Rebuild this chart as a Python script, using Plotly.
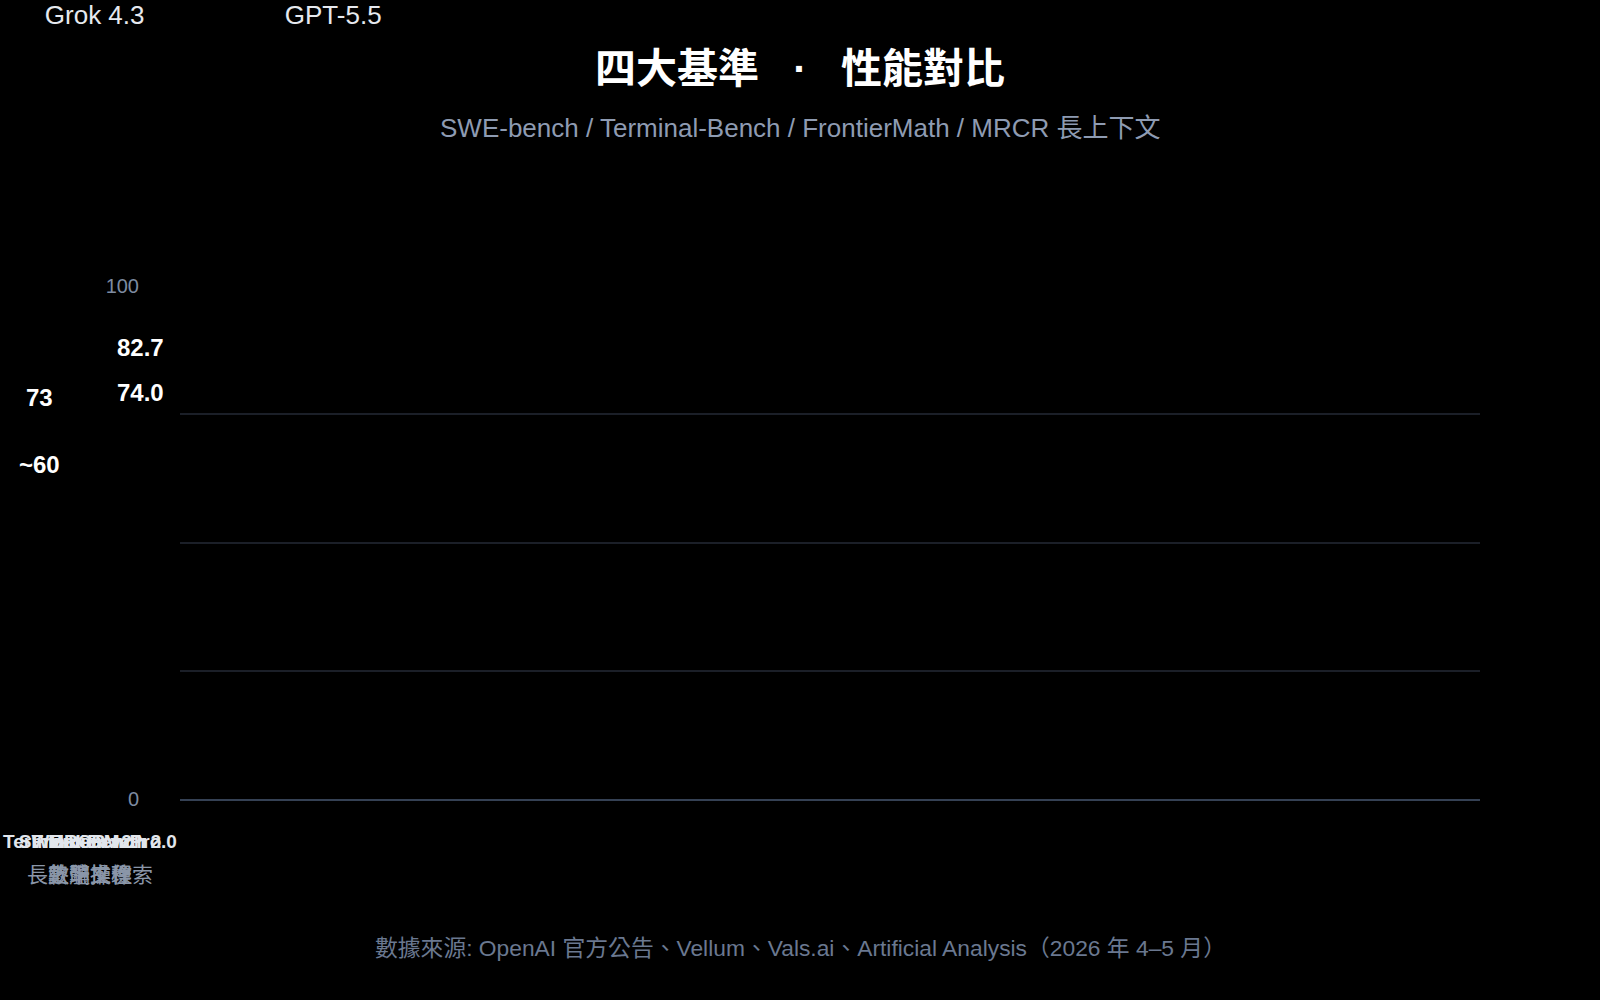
import plotly.graph_objects as go

# Benchmarks (top line) and their Chinese descriptions (second line)
categories = ["SWE-bench Pro", "Terminal-Bench 2.0", "FrontierMath", "MRCR v2"]
cat_subs = ["軟體工程", "終端操作", "數學推理", "長上下文檢索"]

# Scores (only the labelled ones are visible)
grok_scores = [None, 60, None, 73]
grok_labels = ["", "~60", "", "73"]
gpt_scores = [None, 82.7, None, 74.0]
gpt_labels = ["", "82.7", "", "74.0"]

y_ticks = [0, 100]
grid_vals = [25, 50, 75]

FONT = "Liberation Sans, Noto Sans CJK TC, sans-serif"
W, H = 1600, 1000
PLOT_TOP, PLOT_BOTTOM = 286, 799
PLOT_H = PLOT_BOTTOM - PLOT_TOP

fig = go.Figure()

# empty trace so the main grid subplot (x, y) gets drawn
fig.add_trace(go.Scatter(x=[None], y=[None], xaxis="x", yaxis="y",
                         showlegend=False, hoverinfo="skip"))

series = [
    ("Grok 4.3", grok_scores, grok_labels, -0.78, -51),
    ("GPT-5.5", gpt_scores, gpt_labels, 0.36, 50),
]

annotations = []
# one overlaid category axis per benchmark -> all collapse onto the same spot
for i, cat in enumerate(categories):
    for name, scores, labels, offset, xshift in series:
        fig.add_trace(go.Bar(
            x=[cat], y=[scores[i]],
            name=name, legendgroup=name, showlegend=(i == 0),
            xaxis=f"x{i + 2}", yaxis="y2",
            width=0.4, offset=offset,
            marker=dict(color="rgba(0,0,0,0)", line=dict(width=0)),
            hoverinfo="skip",
        ))
        if scores[i] is not None:
            annotations.append(dict(
                text=f"<b>{labels[i]}</b>", xref=f"x{i + 2}", yref="y2",
                x=cat, y=scores[i], xshift=xshift, yshift=27,
                xanchor="center", yanchor="middle", showarrow=False,
                font=dict(size=24, color="#ffffff", family=FONT),
            ))

left_frac = 180 / W
right_frac = 1480 / W

layout_axes = {}
for i, cat in enumerate(categories):
    tick = (f"<span style='font-size:19px;color:#e2e6ec;font-weight:bold'>{cat}</span>"
            f"<br><span style='font-size:21px;color:#8a96a8'>{cat_subs[i]}</span>")
    layout_axes[f"xaxis{i + 2}"] = dict(
        domain=[0, left_frac], type="category", range=[-1, 1],
        anchor="y2", overlaying=None if i == 0 else "x2",
        tickvals=[cat], ticktext=[tick],
        tickfont=dict(size=26, family=FONT),
        ticklabelstandoff=22,
        showgrid=False, showline=False, zeroline=False, ticks="",
        fixedrange=True,
    )

annotations += [
    dict(
        text="SWE-bench / Terminal-Bench / FrontierMath / MRCR 長上下文",
        xref="paper", yref="paper", x=0.5, y=(PLOT_BOTTOM - 128) / PLOT_H,
        xanchor="center", yanchor="middle", showarrow=False,
        font=dict(size=26, color="#8e9bb2", family=FONT),
    ),
    dict(
        text="數據來源: OpenAI 官方公告、Vellum、Vals.ai、Artificial Analysis（2026 年 4–5 月）",
        xref="paper", yref="paper", x=0.5, y=(PLOT_BOTTOM - 948) / PLOT_H,
        xanchor="center", yanchor="middle", showarrow=False,
        font=dict(size=22.8, color="#6a7890", family=FONT),
    ),
]

fig.update_layout(
    width=W, height=H,
    margin=dict(l=0, r=0, t=PLOT_TOP, b=H - PLOT_BOTTOM, autoexpand=False),
    paper_bgcolor="#000000", plot_bgcolor="#000000",
    font=dict(family=FONT, color="#ffffff"),
    barmode="overlay",
    title=dict(
        text="<b>四大基準 &nbsp;&nbsp;·&nbsp;&nbsp; 性能對比</b>",
        x=0.5, xanchor="center", y=1 - 69 / H, yanchor="middle", yref="container",
        font=dict(size=41, color="#ffffff", family=FONT),
    ),
    xaxis=dict(
        domain=[left_frac, right_frac], range=[0, 1], anchor="y",
        showticklabels=False, showgrid=False, zeroline=False,
        showline=True, linecolor="#354154", linewidth=2,
    ),
    yaxis=dict(
        domain=[0, 1], range=[0, 100], anchor="x",
        showticklabels=False, showgrid=False, zeroline=False,
        minor=dict(tickmode="array", tickvals=grid_vals, showgrid=True,
                   gridcolor="#1b1f28", gridwidth=2),
    ),
    yaxis2=dict(
        domain=[0, 1], range=[0, 100], anchor="free", position=160 / W,
        tickvals=y_ticks, ticktext=[str(v) for v in y_ticks],
        tickfont=dict(size=20, color="#7d8ba1", family=FONT),
        ticklabelstandoff=21, ticks="",
        showgrid=False, zeroline=False, showline=False,
    ),
    legend=dict(
        orientation="h", xref="container", yref="paper",
        x=0.003, y=(PLOT_BOTTOM + 10) / PLOT_H, xanchor="left", yanchor="top",
        entrywidth=195, entrywidthmode="pixels",
        font=dict(size=26, color="#e6e9ef", family=FONT),
        bgcolor="rgba(0,0,0,0)",
    ),
    annotations=annotations,
    **layout_axes,
)

fig.write_html(
    "out.html",
    config={"displayModeBar": False},
    post_script="document.body.style.margin='0';document.body.style.background='#000';",
)
